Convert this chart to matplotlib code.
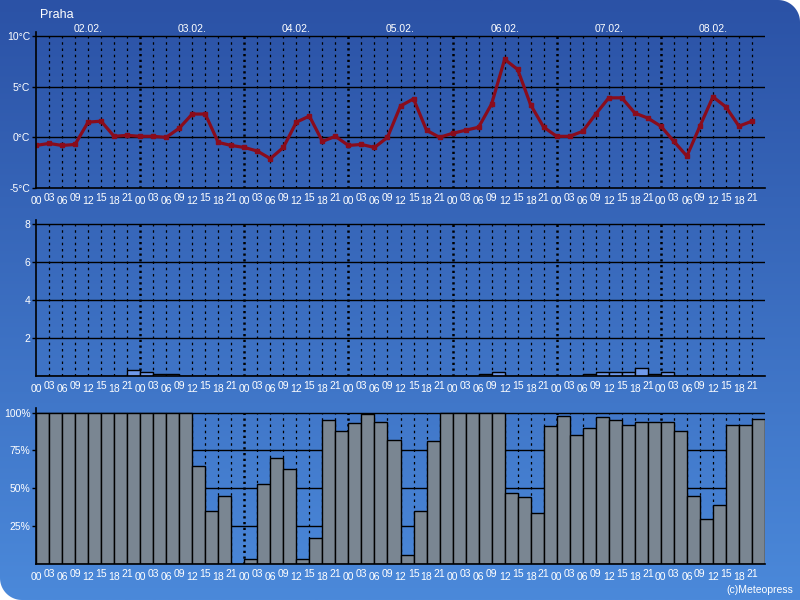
import numpy as np
import matplotlib
matplotlib.use("Agg")
import matplotlib.pyplot as plt
from matplotlib.patches import Polygon

plt.rcParams['font.family'] = ['Liberation Sans', 'DejaVu Sans']

# data: 3-hourly values, 02.02. 00 h to 08.02. 21 h
days = ['02.02.', '03.02.', '04.02.', '05.02.', '06.02.', '07.02.', '08.02.']
hours = ['00', '03', '06', '09', '12', '15', '18', '21']
temps = [-0.8, -0.6, -0.8, -0.7, 1.5, 1.6, 0.1, 0.2,
         0.1, 0.1, 0.0, 0.9, 2.3, 2.3, -0.5, -0.8,
         -1.0, -1.35, -2.1, -1.0, 1.5, 2.1, -0.4, 0.1,
         -0.8, -0.7, -1.0, 0.0, 3.1, 3.8, 0.7, 0.0,
         0.4, 0.7, 1.0, 3.3, 7.7, 6.7, 3.2, 1.0,
         0.1, 0.1, 0.6, 2.3, 3.9, 3.9, 2.4, 1.9,
         1.1, -0.4, -1.85, 1.1, 4.0, 3.0, 1.1, 1.6]
precip = [0, 0, 0, 0, 0, 0, 0, 0.3,
          0.2, 0.1, 0.1, 0, 0, 0, 0, 0,
          0, 0, 0, 0, 0, 0, 0, 0,
          0, 0, 0, 0, 0, 0, 0, 0,
          0, 0, 0.1, 0.2, 0, 0, 0, 0,
          0, 0, 0.1, 0.2, 0.2, 0.2, 0.4, 0.1,
          0.2, 0, 0, 0, 0, 0, 0, 0]
clouds = [100, 100, 100, 100, 100, 100, 100, 100,
          100, 100, 100, 100, 65, 35, 45, 0,
          3, 53, 70, 63, 3, 17, 95, 88,
          93, 99, 94, 82, 6, 35, 81, 100,
          100, 100, 100, 100, 47, 44, 34, 91,
          98, 85, 90, 97, 95, 92, 94, 94,
          94, 88, 45, 30, 39, 92, 92, 96]

n = len(temps)
x = np.arange(n)
hour_labels = hours * len(days)

W, H = 800, 600
fig = plt.figure(figsize=(8, 6), dpi=100, facecolor='white')

# background with gradient, rounded top-right and bottom-left corners
bg = fig.add_axes([0, 0, 1, 1])
bg.set_xlim(0, W)
bg.set_ylim(H, 0)
bg.axis('off')
r = 22
a = np.linspace(0, np.pi / 2, 20)
pts = [(0, 0), (W - r, 0)]
pts += [(W - r + r * np.sin(t), r - r * np.cos(t)) for t in a]
pts += [(W, H), (r, H)]
pts += [(r - r * np.sin(t), H - r + r * np.cos(t)) for t in a]
pts += [(0, 0)]
shape = Polygon(pts, closed=True, facecolor='none', edgecolor='none')
bg.add_patch(shape)
grad = np.linspace(0, 1, 256)[:, None]
cmap = matplotlib.colors.LinearSegmentedColormap.from_list('bgc', ['#2b52a6', '#4b89da'])
im = bg.imshow(grad, extent=[0, W, H, 0], aspect='auto', cmap=cmap, zorder=0)
im.set_clip_path(shape)


def make_axes(top_px, bottom_px):
    left, right = 36, 765
    ax = fig.add_axes([left / W, 1 - bottom_px / H, (right - left) / W, (bottom_px - top_px) / H])
    ax.patch.set_alpha(0)
    ax.set_xlim(0, n)
    for s in ['top', 'right']:
        ax.spines[s].set_visible(False)
    for s in ['left', 'bottom']:
        ax.spines[s].set_color('black')
        ax.spines[s].set_linewidth(1.2)
        ax.spines[s].set_zorder(5)
    ax.set_xticks([])
    ax.tick_params(axis='y', colors='black', labelcolor='white', length=3,
                   width=1, labelsize=7.5, pad=1)
    return ax


def vgrid(ax, ymin, ymax):
    for i in range(1, n):
        if i % 8 == 0:
            ax.plot([i, i], [ymin, ymax], color='black', lw=1.8,
                    dashes=(0.9, 1.4), zorder=1)
        else:
            ax.plot([i, i], [ymin, ymax], color='black', lw=0.9,
                    dashes=(2.0, 3.0), zorder=1)


def hour_ticks(ax):
    for i in range(n):
        off = -9 if i % 2 == 0 else -7
        ax.annotate(hour_labels[i], xy=(i, 0), xycoords=('data', 'axes fraction'),
                    xytext=(0, off), textcoords='offset points',
                    ha='center', va='center', color='white', fontsize=7.5)


# temperature
ax1 = make_axes(32, 188)
ax1.set_ylim(-5, 10.4)
vgrid(ax1, -5, 10)
for v in [0, 5, 10]:
    ax1.axhline(v, color='black', lw=1, zorder=1)
ax1.plot(x, temps, color='#8a0c1c', lw=2.3, marker='s', ms=3, zorder=4)
ax1.set_yticks([-5, 0, 5, 10])
ax1.set_yticklabels(['-5°C', '0°C', '5°C', '10°C'])
hour_ticks(ax1)
for d, lab in enumerate(days):
    ax1.annotate(lab, xy=(d * 8 + 4, 10), xycoords='data', xytext=(0, 5),
                 textcoords='offset points', ha='center', va='center',
                 color='white', fontsize=7.5)

# precipitation
ax2 = make_axes(220, 376)
ax2.set_ylim(0, 8.2)
vgrid(ax2, 0, 8)
for v in [2, 4, 6, 8]:
    ax2.axhline(v, color='black', lw=1, zorder=1)
ax2.bar(x, precip, width=1, align='edge', color='#6f99ea',
        edgecolor='black', lw=1, zorder=3)
ax2.set_yticks([2, 4, 6, 8])
ax2.set_yticklabels(['2', '4', '6', '8'])
hour_ticks(ax2)

# cloud cover
ax3 = make_axes(408, 564)
ax3.set_ylim(0, 103)
vgrid(ax3, 0, 100)
for v in [25, 50, 75, 100]:
    ax3.axhline(v, color='black', lw=1, zorder=1)
ax3.bar(x, clouds, width=1, align='edge', color='#7a8692',
        edgecolor='black', lw=1, zorder=3)
ax3.set_yticks([25, 50, 75, 100])
ax3.set_yticklabels(['25%', '50%', '75%', '100%'])
hour_ticks(ax3)

fig.text(40 / W, 1 - 15 / H, 'Praha', color='white', fontsize=9, ha='left', va='center')
fig.text(793 / W, 1 - 590 / H, '(c)Meteopress', color='white', fontsize=7.5,
         ha='right', va='center')

fig.savefig('out.png', dpi=100, facecolor='white')
